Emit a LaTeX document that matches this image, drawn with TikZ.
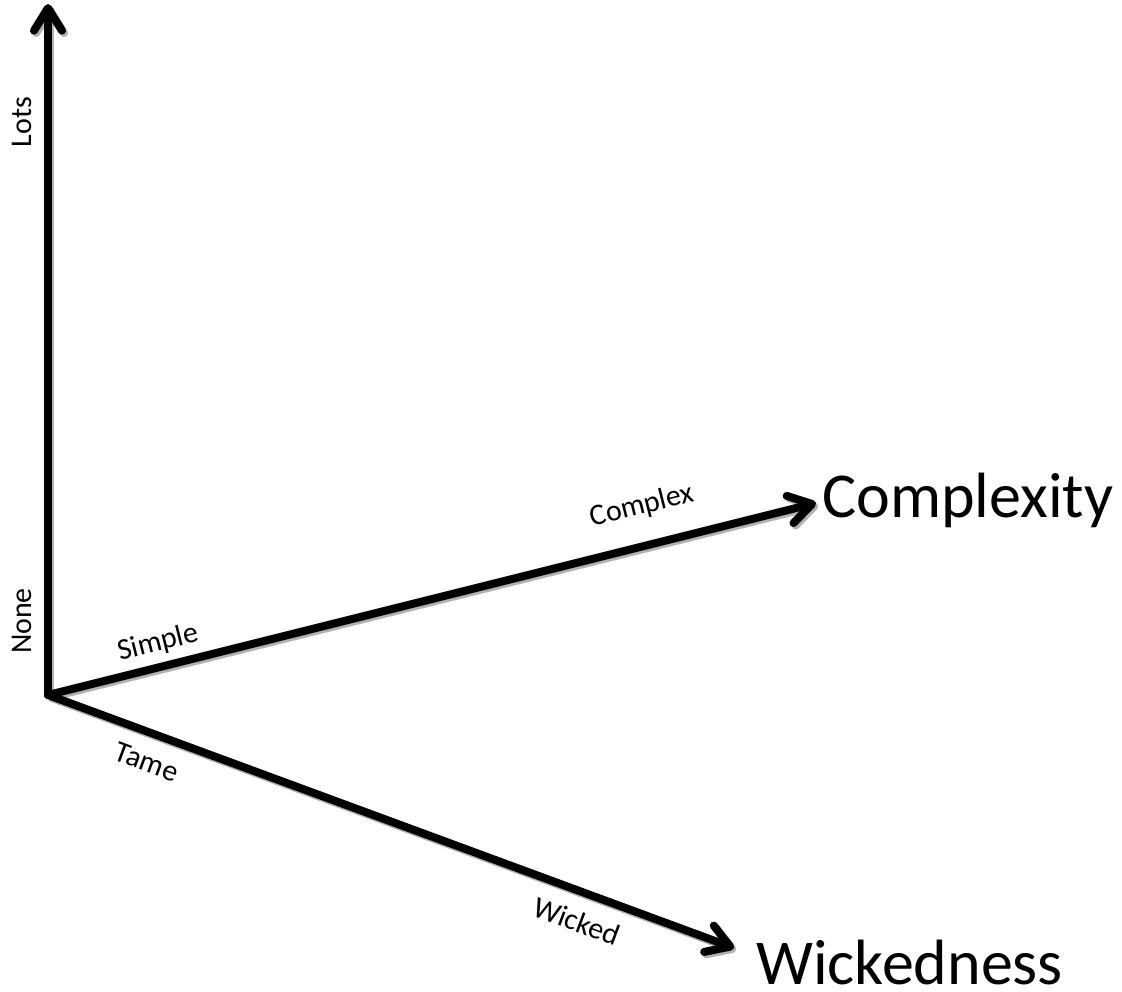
\documentclass[tikz,border=0pt]{standalone}
\usepackage{fontspec}
\setmainfont{Carlito}
\usetikzlibrary{arrows.meta}
\tikzset{
  axis/.style={line width=6pt, line cap=round, line join=round,
    -{Straight Barb[round, length=17pt, width=21pt]},
    preaction={draw=black!30, line width=6pt,
      transform canvas={shift={(1.6pt,-1.8pt)}}}},
  ticklabel/.style={font=\fontsize{22.5}{27}\selectfont, inner sep=0pt},
  axislabel/.style={font=\fontsize{48}{58}\selectfont, inner sep=0pt}
}
\begin{document}
\begin{tikzpicture}[x=0.75pt, y=-0.75pt]
  \useasboundingbox (0,0) rectangle (1122,992);

  % axes
  \coordinate (O) at (48,695);
  \coordinate (up) at (48,4);
  \coordinate (cx) at (816,503);
  \coordinate (wk) at (734,948);

  \draw[axis] (O) -- (up);
  \draw[axis] (O) -- (cx);
  \draw[axis] (O) -- (wk);

  % axis titles
  \node[axislabel, anchor=base west] (complexity) at (822,517) {Complexity};
  \node[axislabel, anchor=base west] (wickedness) at (756,984) {Wickedness};

  % scale end labels
  \node[ticklabel, rotate=90] (lots) at (22,122) {Lots};
  \node[ticklabel, rotate=90] (none) at (22,621) {None};
  \node[ticklabel, rotate=14] (simple) at (158,643) {Simple};
  \node[ticklabel, rotate=14] (complex) at (642,506) {Complex};
  \node[ticklabel, rotate=-20.4] (tame) at (147,762) {Tame};
  \node[ticklabel, rotate=-20.4] (wicked) at (577,921) {Wicked};
\end{tikzpicture}
\end{document}
